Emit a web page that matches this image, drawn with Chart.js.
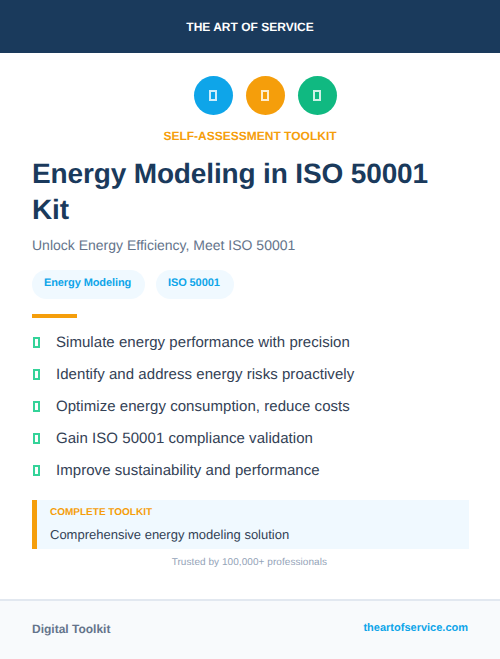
<!DOCTYPE html>
<html>
<head>
<meta charset="utf-8">
<script src="https://cdn.jsdelivr.net/npm/chart.js@4"></script>
<style>
  html, body { margin:0; padding:0; background:#fff; }
  body { width:500px; height:659px; position:relative; overflow:hidden; font-family:"Liberation Sans", sans-serif; text-rendering:geometricPrecision; }
  .box { position:absolute; box-sizing:border-box; }
  .t { position:absolute; white-space:nowrap; }
  #iconChart { position:absolute; left:187px; top:70px; }
</style>
</head>
<body>
<div class="box" style="left:0;top:0;width:500px;height:53px;background:#1a3a5c"></div>
<div class="t" style="left:0;width:500px;text-align:center;top:19px;font-size:12px;line-height:16px;font-weight:700;color:#fff">THE ART OF SERVICE</div>

<canvas id="iconChart" width="157" height="51"></canvas>
<div id="icons"></div>

<div class="t" style="left:0;width:500px;text-align:center;top:128px;font-size:12px;line-height:16px;font-weight:700;color:#f59e0b">SELF-ASSESSMENT TOOLKIT</div>

<div class="t" style="left:32px;top:156px;font-size:28px;line-height:36.4px;font-weight:700;letter-spacing:-.14px;color:#1a3a5c">Energy Modeling in ISO 50001<br>Kit</div>
<div class="t" style="left:32px;top:236px;font-size:14px;line-height:18px;color:#64748b">Unlock Energy Efficiency, Meet ISO 50001</div>

<div id="tags"></div>
<div class="box" style="left:32px;top:314px;width:45px;height:4px;background:#f59e0b"></div>
<div id="bullets"></div>

<div class="box" style="left:32px;top:500px;width:437px;height:49px;background:#f0f9ff"></div>
<div class="box" style="left:32px;top:500px;width:5px;height:49px;background:#f59e0b"></div>
<div class="t" style="left:50px;top:505.5px;font-size:10px;line-height:14px;font-weight:700;color:#f59e0b">COMPLETE TOOLKIT</div>
<div class="t" style="left:50px;top:526px;font-size:13px;line-height:17px;color:#334155">Comprehensive energy modeling solution</div>
<div class="t" style="left:0;width:327px;text-align:right;top:556px;font-size:10px;line-height:14px;letter-spacing:.06px;color:#94a3b8">Trusted by 100,000+ professionals</div>

<div class="box" style="left:0;top:599px;width:500px;height:60px;background:#f8fafc;border-top:2px solid #e2e8f0"></div>
<div class="t" style="left:32px;top:621px;font-size:12px;line-height:16px;font-weight:700;color:#64748b">Digital Toolkit</div>
<div class="t" style="right:32px;top:621px;font-size:11px;line-height:15px;font-weight:700;color:#0ea5e9">theartofservice.com</div>

<script>
const iconSlots = [0, 1, 2];
const iconRow = [0, 0, 0];
const iconColors = ["#0ea5e9", "#f59e0b", "#10b981"];
const tagLabels = ["Energy Modeling", "ISO 50001"];
const bulletLines = [
  "Simulate energy performance with precision",
  "Identify and address energy risks proactively",
  "Optimize energy consumption, reduce costs",
  "Gain ISO 50001 compliance validation",
  "Improve sustainability and performance",
];

function addText(parent, cssText, text){
  const el = document.createElement("div");
  el.className = "t";
  el.style.cssText = cssText;
  el.textContent = text;
  parent.appendChild(el);
  return el;
}

function addBox(parent, cssText){
  const el = document.createElement("div");
  el.className = "box";
  el.style.cssText = cssText;
  parent.appendChild(el);
  return el;
}

window.addEventListener("DOMContentLoaded", ()=>{
  new Chart(document.getElementById("iconChart"), {
    type: "scatter",
    data: {
      datasets: [{
        data: iconSlots.map((x,i)=>({x:x, y:iconRow[i]})),
        pointRadius: 19.5,
        pointBackgroundColor: iconColors,
        pointBorderWidth: 0,
        clip: false,
      }]
    },
    options: {
      responsive:false, animation:false, devicePixelRatio:1,
      layout:{ padding:0, autoPadding:false },
      scales:{
        x:{ display:false, min:-0.5096, max:2.5096 },
        y:{ display:false, min:-1, max:1 },
      },
      plugins:{ legend:{ display:false }, tooltip:{ enabled:false } }
    }
  });

  // empty icon boxes, the source page's icon font did not load
  const icons = document.getElementById("icons");
  iconSlots.forEach((s)=>{
    addBox(icons, `left:${209+52*s}px;top:90px;width:8px;height:11px;border:2px solid rgba(255,255,255,.8)`);
  });

  const tags = document.getElementById("tags");
  let left = 32;
  const tagWidths = [113, 78];
  tagLabels.forEach((label,i)=>{
    addBox(tags, `left:${left}px;top:270px;width:${tagWidths[i]}px;height:29px;border-radius:15px;background:#f0f9ff`);
    addText(tags, `left:${left+12}px;top:276px;font-size:11px;line-height:15px;font-weight:700;letter-spacing:-.1px;color:#0ea5e9`, label);
    left += tagWidths[i] + 11;
  });

  const bullets = document.getElementById("bullets");
  bulletLines.forEach((line,i)=>{
    const top = 332 + 32*i;
    addBox(bullets, `left:32.5px;top:${top+5}px;width:7.5px;height:11px;border:2px solid #34d399`);
    addText(bullets, `left:56px;top:${top+0.5}px;font-size:15px;line-height:20px;letter-spacing:.05px;color:#334155`, line);
  });
});
</script>
</body>
</html>
